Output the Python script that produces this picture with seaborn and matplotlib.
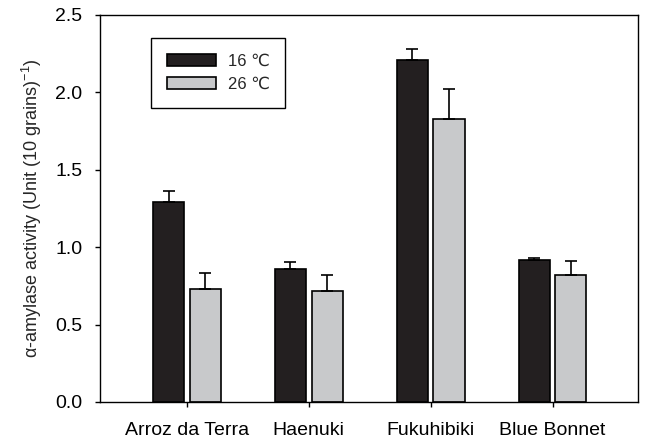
import numpy as np
import pandas as pd
import matplotlib
matplotlib.use("Agg")
import matplotlib.pyplot as plt
import seaborn as sns

# Mean alpha-amylase activity per cultivar at two grain-filling temperatures
cultivars = ["Arroz da Terra", "Haenuki", "Fukuhibiki", "Blue Bonnet"]
temps = ["16 \u2103", "26 \u2103"]
mean_16 = [1.29, 0.857, 2.21, 0.915]
mean_26 = [0.73, 0.715, 1.83, 0.818]
err_16 = [0.075, 0.045, 0.07, 0.017]
err_26 = [0.10, 0.105, 0.19, 0.09]

df = pd.DataFrame({
    "cultivar": cultivars * 2,
    "temp": [temps[0]] * 4 + [temps[1]] * 4,
    "activity": mean_16 + mean_26,
    "err": err_16 + err_26,
})

sns.set_style("ticks")
plt.rcParams["font.family"] = ["Liberation Sans", "DejaVu Sans"]
plt.rcParams["mathtext.fontset"] = "custom"
plt.rcParams["mathtext.rm"] = "Liberation Sans"
plt.rcParams["mathtext.it"] = "Liberation Sans:italic"

fig = plt.figure(figsize=(6.45, 4.46), dpi=100)
ax = fig.add_axes([0.155, 0.0987, 0.834, 0.8677])

palette = {temps[0]: "#231f20", temps[1]: "#c8c9cb"}
sns.barplot(data=df, x="cultivar", y="activity", hue="temp", order=cultivars,
            hue_order=temps, palette=palette, width=0.6, gap=0.15,
            errorbar=None, edgecolor="black", linewidth=1.2, saturation=1,
            ax=ax)

# upper-only error bars placed at the centres of the drawn bars
bars = [p for p in ax.patches if p.get_height() > 0]
for temp, errs in zip(temps, [err_16, err_26]):
    sub = df[df["temp"] == temp]
    for cv, val, e in zip(sub["cultivar"], sub["activity"], errs):
        for p in bars:
            if abs(p.get_height() - val) < 1e-9:
                xc = p.get_x() + p.get_width() / 2
                ax.errorbar(xc, val, yerr=[[0], [e]], fmt="none",
                            ecolor="black", elinewidth=1.2, capsize=4.5,
                            capthick=1.2, zorder=5)
                break

ax.set_xlim(-0.713, 3.70)
ax.set_ylim(0, 2.5)
ax.set_yticks([0.0, 0.5, 1.0, 1.5, 2.0, 2.5])
ax.set_yticklabels(["0.0", "0.5", "1.0", "1.5", "2.0", "2.5"])
ax.set_xlabel("")
ax.set_ylabel("\u03b1-amylase activity (Unit (10 grains)$^{-1}$)",
              fontsize=13, labelpad=8)

for s in ax.spines.values():
    s.set_visible(True)
    s.set_linewidth(1.0)
    s.set_color("black")
ax.tick_params(axis="both", direction="out", length=3.6, width=1.0,
               colors="black", labelsize=14)
ax.tick_params(axis="y", pad=9)
ax.tick_params(axis="x", pad=11)

leg = ax.legend(loc="upper left", bbox_to_anchor=(0.0946, 0.941),
                frameon=True, fancybox=False, edgecolor="black",
                framealpha=1, fontsize=12, handlelength=2.95,
                handleheight=0.7, handletextpad=0.7, labelspacing=0.5,
                borderpad=0.95, borderaxespad=0, title=None)
leg.get_frame().set_linewidth(1.0)

fig.savefig("out.png", dpi=100)
